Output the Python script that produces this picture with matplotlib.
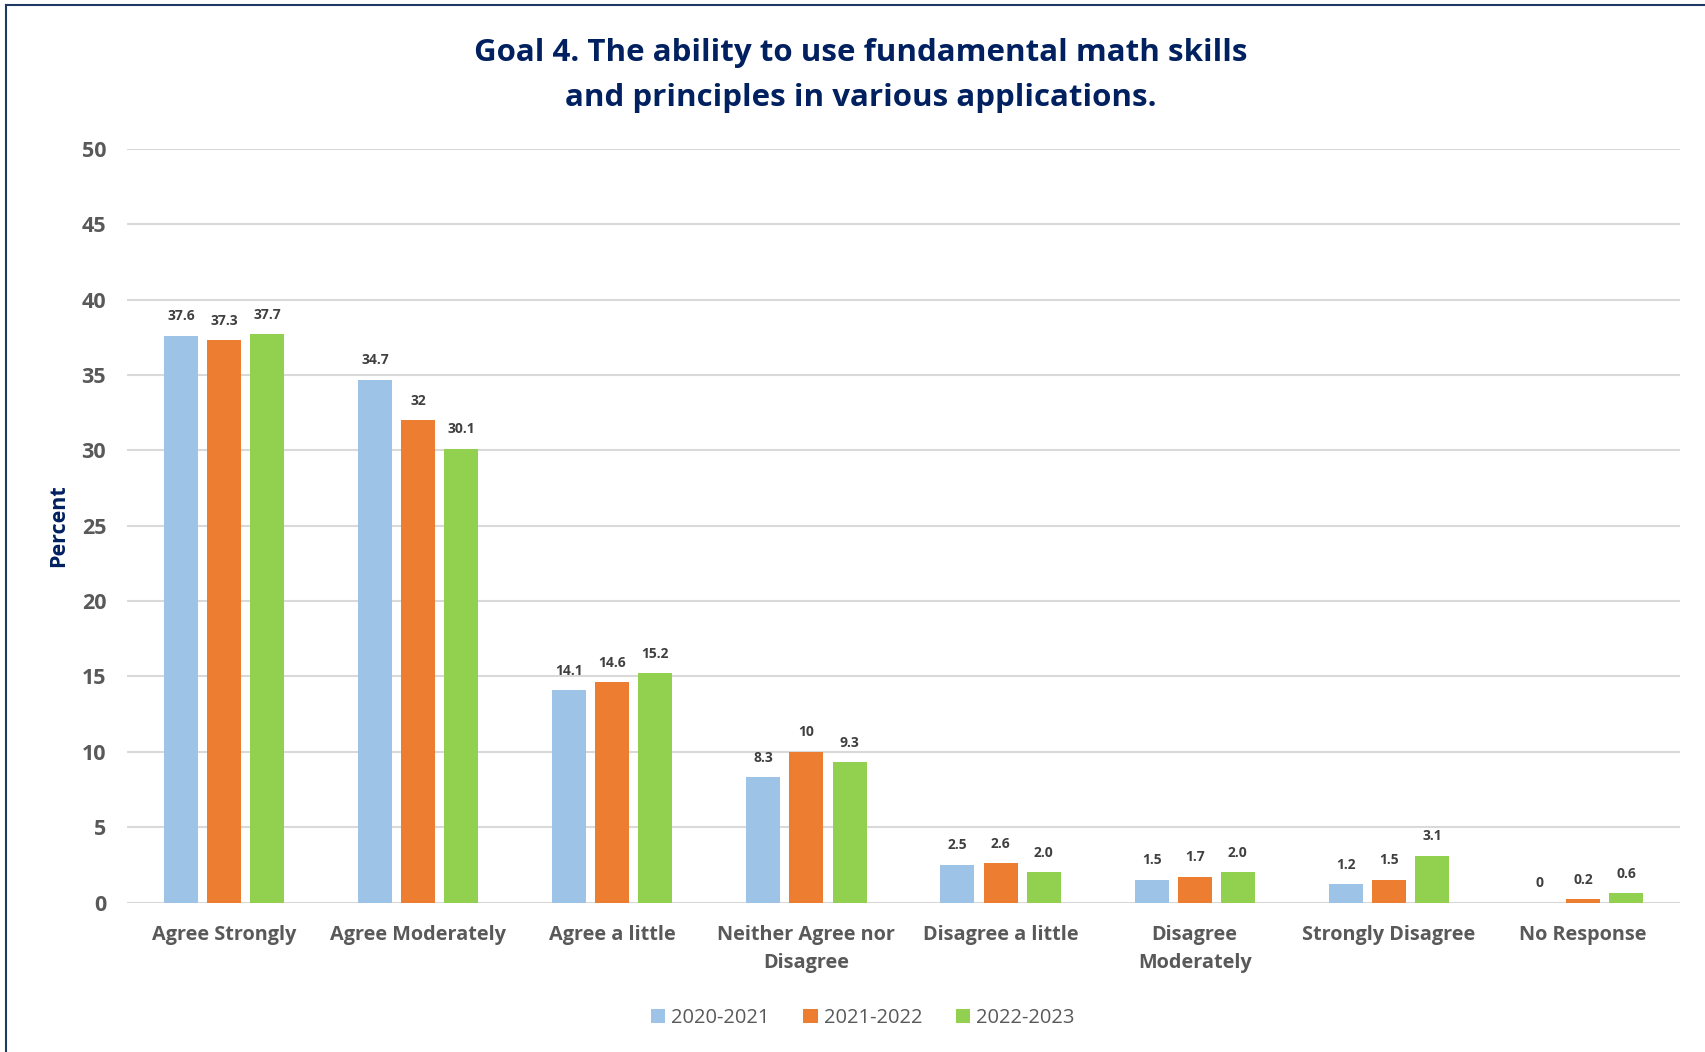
import matplotlib
matplotlib.use('Agg')
import matplotlib.pyplot as plt
import numpy as np
from matplotlib.lines import Line2D

plt.rcParams['font.family'] = ['Open Sans', 'DejaVu Sans']

# Survey data (percent)
categories = ['Agree Strongly', 'Agree Moderately', 'Agree a little',
              'Neither Agree nor\nDisagree', 'Disagree a little',
              'Disagree\nModerately', 'Strongly Disagree', 'No Response']
years = ['2020-2021', '2021-2022', '2022-2023']
vals_2021 = [37.6, 34.7, 14.1, 8.3, 2.5, 1.5, 1.2, 0]
vals_2122 = [37.3, 32, 14.6, 10, 2.6, 1.7, 1.5, 0.2]
vals_2223 = [37.7, 30.1, 15.2, 9.3, 2.0, 2.0, 3.1, 0.6]
labels_2021 = ['37.6', '34.7', '14.1', '8.3', '2.5', '1.5', '1.2', '0']
labels_2122 = ['37.3', '32', '14.6', '10', '2.6', '1.7', '1.5', '0.2']
labels_2223 = ['37.7', '30.1', '15.2', '9.3', '2.0', '2.0', '3.1', '0.6']

colors = ['#9DC3E6', '#ED7D31', '#92D050']
navy = '#002060'
gray = '#595959'

fig = plt.figure(figsize=(17.05, 10.52), dpi=100)
ax = fig.add_axes([0.0745, 0.1421, 0.9108, 0.7163])

x = np.arange(len(categories))
step = 0.222
width = 0.175
series = [(vals_2021, labels_2021), (vals_2122, labels_2122), (vals_2223, labels_2223)]
for i, (vals, labs) in enumerate(series):
    pos = x + (i - 1) * step
    ax.bar(pos, vals, width=width, color=colors[i], label=years[i], zorder=3)
    for px, v, t in zip(pos, vals, labs):
        ax.annotate(t, (px, v), xytext=(0, 9), textcoords='offset points',
                    ha='center', va='bottom', fontsize=10, fontweight='bold',
                    color='#404040')

ax.set_xlim(-0.5, len(categories) - 0.5)
ax.set_ylim(0, 50)
ax.set_yticks(range(0, 51, 5))
ax.yaxis.grid(True, color='#D9D9D9', linewidth=1.5, zorder=0)
ax.set_axisbelow(True)
for s in ax.spines.values():
    s.set_visible(False)
ax.axhline(0, color='#D9D9D9', linewidth=2, zorder=2)

ax.set_xticks(x)
ax.set_xticklabels(categories, fontsize=14.3, fontweight='bold', color=gray, linespacing=1.55)
ax.tick_params(axis='x', length=0, pad=16)
ax.tick_params(axis='y', length=0, pad=15, labelsize=15.5, labelcolor=gray)
for t in ax.get_yticklabels():
    t.set_fontweight('bold')

ax.set_ylabel('Percent', fontsize=15.5, fontweight='bold', color=navy)
ax.yaxis.set_label_coords(-0.037, 0.5)

fig.text(0.505, 0.9500, 'Goal 4. The ability to use fundamental math skills',
         ha='center', va='center', fontsize=22.5, fontweight='bold', color=navy)
fig.text(0.505, 0.9065, 'and principles in various applications.',
         ha='center', va='center', fontsize=22.5, fontweight='bold', color=navy)

leg = fig.legend(loc='center', bbox_to_anchor=(0.506, 0.032), ncol=3, frameon=False,
                 fontsize=14.5, handlelength=0.7, handleheight=0.7, columnspacing=1.7,
                 handletextpad=0.3)
for t in leg.get_texts():
    t.set_color(gray)

# frame lines of the screenshot (left and top only)
fig.add_artist(Line2D([0.0035, 0.0035], [0, 0.9955], color='#203864', linewidth=1.5))
fig.add_artist(Line2D([0.0035, 1], [0.9955, 0.9955], color='#203864', linewidth=1.5))

fig.savefig('out.png', dpi=100)
